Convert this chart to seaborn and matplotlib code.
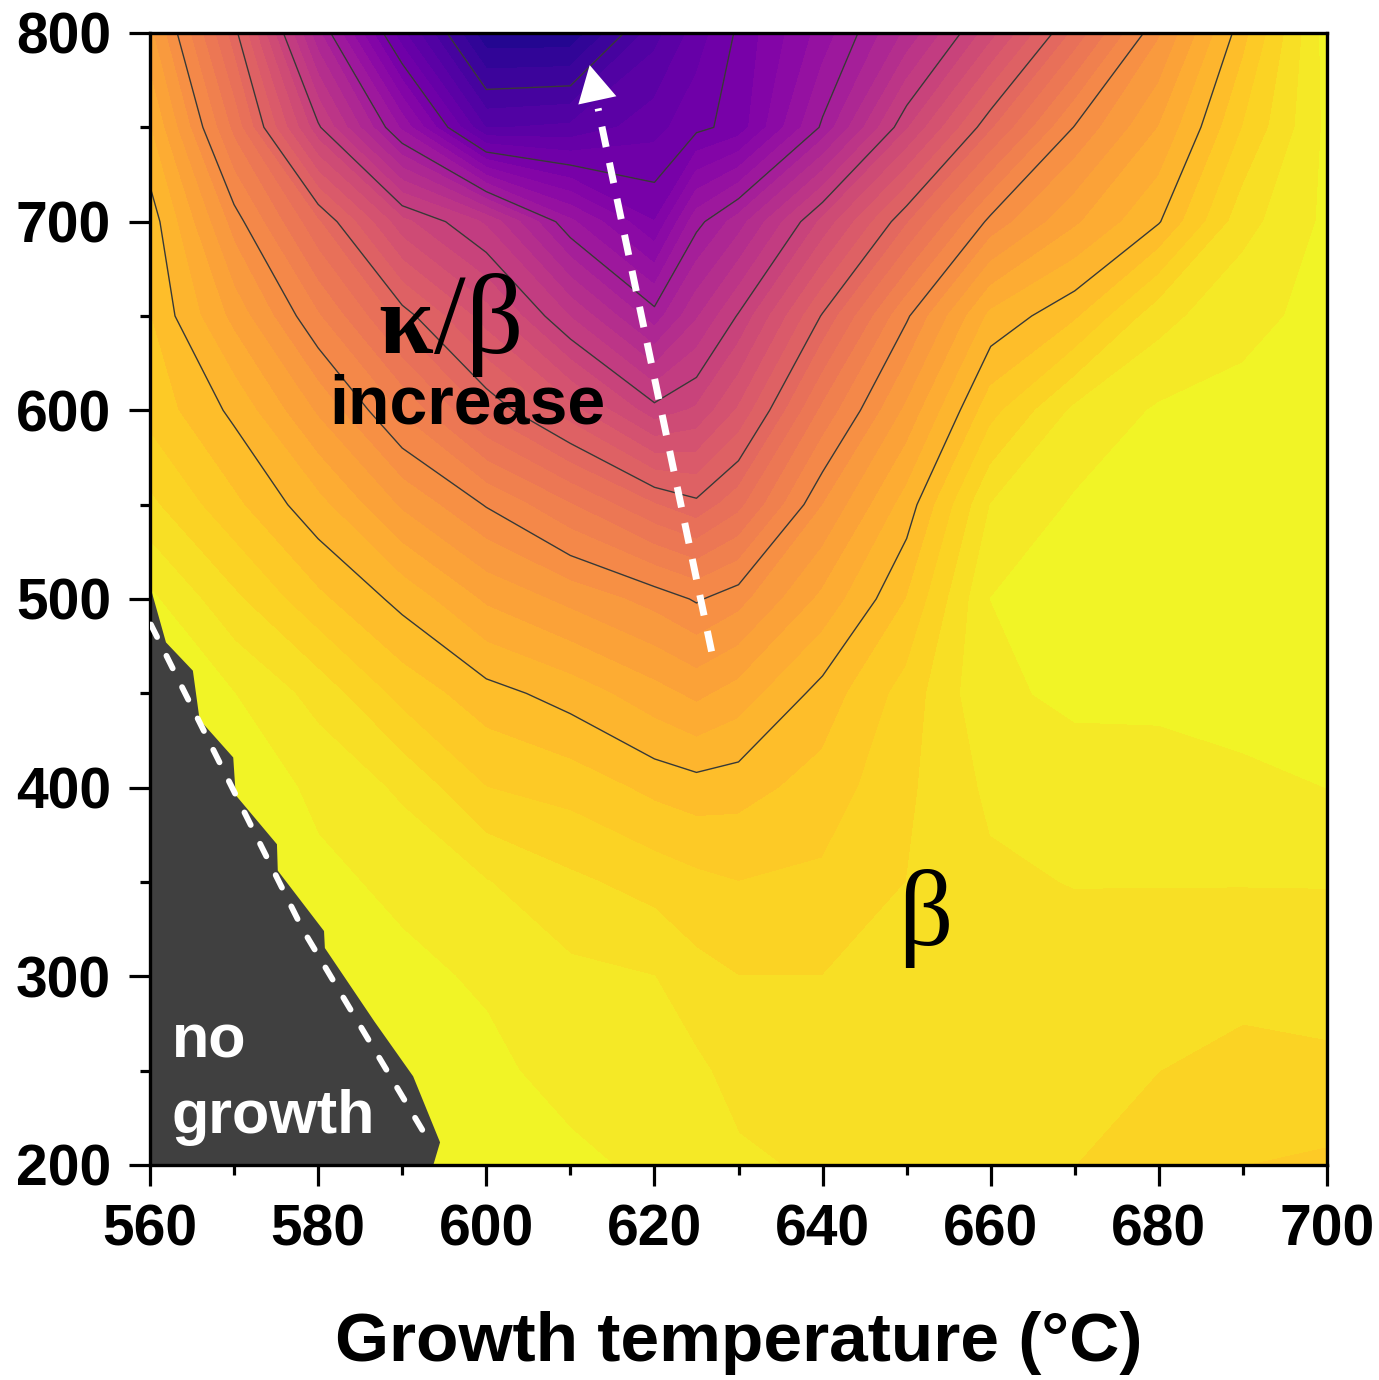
import numpy as np
import matplotlib
matplotlib.use("Agg")
import matplotlib.pyplot as plt
import seaborn as sns

# ---------------- data ----------------
growth_temp = [560, 570, 580, 590, 600, 610, 620, 625, 630, 640, 650, 660, 670, 680, 690, 700]
y_values = [200, 250, 300, 350, 400, 450, 500, 550, 600, 650, 700, 750, 800]

# normalised kappa/beta map, one column per temperature (y = 200 ... 800)
z_560 = [0.99, 0.99, 0.99, 0.99, 0.99, 0.99, 0.98, 0.93, 0.89, 0.875, 0.865, 0.825, 0.78]
z_570 = [0.99, 0.99, 0.99, 0.99, 0.99, 0.975, 0.93, 0.88, 0.844, 0.791, 0.738, 0.666, 0.61]
z_580 = [0.99, 0.99, 0.99, 0.98, 0.97, 0.94, 0.88, 0.833, 0.77, 0.702, 0.627, 0.48, 0.38]
z_590 = [0.99, 0.985, 0.98, 0.97, 0.945, 0.89, 0.842, 0.77, 0.695, 0.612, 0.507, 0.318, 0.18]
z_600 = [0.985, 0.98, 0.972, 0.951, 0.9, 0.86, 0.795, 0.723, 0.619, 0.537, 0.445, 0.147, 0.03]
z_610 = [0.98, 0.967, 0.956, 0.93, 0.89, 0.839, 0.767, 0.676, 0.559, 0.448, 0.33, 0.155, 0.03]
z_620 = [0.97, 0.96, 0.95, 0.915, 0.868, 0.809, 0.74, 0.626, 0.485, 0.361, 0.25, 0.19, 0.14]
z_625 = [0.965, 0.955, 0.933, 0.906, 0.861, 0.793, 0.722, 0.607, 0.504, 0.421, 0.341, 0.218, 0.186]
z_630 = [0.955, 0.94, 0.925, 0.9, 0.865, 0.81, 0.74, 0.641, 0.553, 0.478, 0.387, 0.235, 0.23]
z_640 = [0.945, 0.935, 0.925, 0.905, 0.885, 0.86, 0.806, 0.749, 0.68, 0.603, 0.506, 0.355, 0.31]
z_650 = [0.94, 0.935, 0.93, 0.925, 0.92, 0.91, 0.875, 0.836, 0.78, 0.721, 0.621, 0.496, 0.405]
z_660 = [0.935, 0.935, 0.935, 0.945, 0.955, 0.972, 0.975, 0.95, 0.89, 0.831, 0.733, 0.62, 0.514]
z_670 = [0.925, 0.93, 0.935, 0.951, 0.968, 0.978, 0.982, 0.978, 0.955, 0.87, 0.795, 0.727, 0.631]
z_680 = [0.91, 0.925, 0.932, 0.951, 0.965, 0.98, 0.984, 0.982, 0.978, 0.94, 0.848, 0.8, 0.746]
z_690 = [0.9, 0.92, 0.93, 0.951, 0.972, 0.98, 0.985, 0.984, 0.98, 0.97, 0.94, 0.9, 0.865]
z_700 = [0.895, 0.92, 0.935, 0.951, 0.975, 0.978, 0.985, 0.985, 0.982, 0.98, 0.98, 0.98, 0.985]

line_levels = [0.1, 0.225, 0.35, 0.475, 0.6, 0.725, 0.85]

# no-growth region boundary
no_growth_T = [560, 560, 561.9, 565.1, 565.9, 569.9, 570.2, 575.1, 575.2, 580.7, 580.8, 586.7, 591.3, 594.5, 593.7]
no_growth_Y = [200, 507, 477, 462, 436, 416, 396, 370, 356, 324, 315, 276, 247, 212, 200]
limit_line_T = [560.1, 578.2, 593.3]
limit_line_Y = [486.5, 324.6, 211.8]

# trend arrow
arrow_T = [626.8, 613.3]
arrow_Y = [472.2, 760.0]
arrow_tip = (612.3, 783.0)
arrow_base = (613.2, 764.5)

x_ticks = [560, 580, 600, 620, 640, 660, 680, 700]
y_ticks = [200, 300, 400, 500, 600, 700, 800]

# ---------------- style ----------------
sns.set_style("ticks")
plt.rcParams["font.family"] = ["Liberation Sans", "DejaVu Sans"]
plt.rcParams["font.weight"] = "bold"
plt.rcParams["text.color"] = "black"
plt.rcParams["axes.labelcolor"] = "black"
plt.rcParams["xtick.color"] = "black"
plt.rcParams["ytick.color"] = "black"
plt.rcParams["xtick.labelcolor"] = "black"
plt.rcParams["ytick.labelcolor"] = "black"

cmap = sns.color_palette("plasma", as_cmap=True)

Z = np.column_stack([z_560, z_570, z_580, z_590, z_600, z_610, z_620, z_625,
                     z_630, z_640, z_650, z_660, z_670, z_680, z_690, z_700])
X, Y = np.meshgrid(growth_temp, y_values)

fig = plt.figure(figsize=(13.79, 13.80), dpi=100)
ax = fig.add_axes([150 / 1379, (1380 - 1165) / 1380, (1327 - 150) / 1379, (1165 - 33) / 1380])

fill_levels = np.linspace(0, 1, 41)
cf = ax.contourf(X, Y, Z, levels=fill_levels, cmap=cmap, vmin=0, vmax=1, zorder=1)
cf.set_edgecolor("face")
cf.set_linewidth(0.6)
ax.contour(X, Y, Z, levels=line_levels, colors="#383838", linewidths=1.0, zorder=2)

ax.fill(no_growth_T, no_growth_Y, color="#404040", lw=0, zorder=2.3)
ax.plot(limit_line_T, limit_line_Y, color="white", lw=4.2,
        linestyle=(0, (2.4, 3.6)), dash_capstyle="round", zorder=4)

ax.plot(arrow_T, arrow_Y, color="white", lw=5.0, linestyle=(0, (3.0, 2.3)),
        dash_capstyle="butt", zorder=4)
ax.annotate("", xy=arrow_tip, xytext=arrow_base,
            arrowprops=dict(arrowstyle="-|>,head_length=1.3,head_width=0.7",
                            mutation_scale=20, color="white", lw=0,
                            shrinkA=0, shrinkB=0), zorder=4)

serif = ["Liberation Serif", "DejaVu Serif"]
ax.text(593.7, 630.3, "κ", family=serif, fontsize=71, weight="bold",
        ha="right", va="baseline", color="black", zorder=5)
ax.text(593.8, 630.3, "/β", family=serif, fontsize=82, weight="normal",
        ha="left", va="baseline", color="black", zorder=5)
ax.text(597.8, 593.2, "increase", fontsize=49, weight="bold",
        ha="center", va="baseline", color="black", zorder=5)
ax.text(652.2, 316.7, "β", family=serif, fontsize=77, weight="normal",
        ha="center", va="baseline", color="black", zorder=5)
ax.text(562.6, 256.8, "no", fontsize=44, weight="bold",
        ha="left", va="baseline", color="white", zorder=5)
ax.text(562.6, 217.0, "growth", fontsize=44, weight="bold",
        ha="left", va="baseline", color="white", zorder=5)

ax.set_xlim(560, 700)
ax.set_ylim(200, 800)
ax.set_xticks(x_ticks)
ax.set_yticks(y_ticks)
ax.set_xticks(np.arange(570, 700, 20), minor=True)
ax.set_yticks(np.arange(250, 800, 100), minor=True)
ax.tick_params(axis="both", which="major", direction="out", length=15, width=2.3,
               labelsize=41, pad=13, color="black", labelcolor="black")
ax.tick_params(axis="both", which="minor", direction="out", length=7.5, width=2.3,
               color="black")
ax.tick_params(top=False, right=False, which="both")
for lab in ax.get_xticklabels() + ax.get_yticklabels():
    lab.set_fontweight("bold")

for side in ["left", "bottom", "top", "right"]:
    ax.spines[side].set_visible(True)
    ax.spines[side].set_linewidth(2.4)
    ax.spines[side].set_color("black")

ax.set_xlabel("Growth temperature (°C)", fontsize=50, fontweight="bold",
              labelpad=38, color="black")
ax.set_ylabel("")

fig.savefig("out.png", dpi=100)
